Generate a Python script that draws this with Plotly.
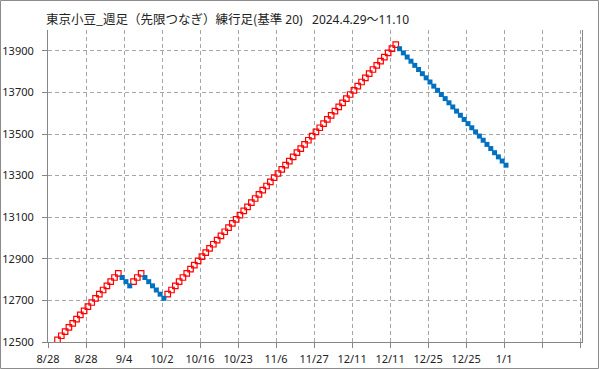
import plotly.graph_objects as go

# ---- data ----
tick_labels = ["8/28", "8/28", "9/4", "10/2", "10/16", "10/23", "11/6",
               "11/27", "12/11", "12/11", "12/25", "12/25", "1/1", "", ""]

up1 = [12510, 12530, 12550, 12570, 12590, 12610, 12630, 12650, 12670,
       12690, 12710, 12730, 12750, 12770, 12790, 12810, 12830]
down1 = [12810, 12790, 12770]
up2 = [12790, 12810, 12830]
down2 = [12810, 12790, 12770, 12750, 12730, 12710]
up3 = [12730, 12750, 12770, 12790, 12810, 12830, 12850, 12870, 12890, 12910,
       12930, 12950, 12970, 12990, 13010, 13030, 13050, 13070, 13090, 13110,
       13130, 13150, 13170, 13190, 13210, 13230, 13250, 13270, 13290, 13310,
       13330, 13350, 13370, 13390, 13410, 13430, 13450, 13470, 13490, 13510,
       13530, 13550, 13570, 13590, 13610, 13630, 13650, 13670, 13690, 13710,
       13730, 13750, 13770, 13790, 13810, 13830, 13850, 13870, 13890, 13910,
       13930]
down3 = [13910, 13890, 13870, 13850, 13830, 13810, 13790, 13770, 13750, 13730,
         13710, 13690, 13670, 13650, 13630, 13610, 13590, 13570, 13550, 13530,
         13510, 13490, 13470, 13450, 13430, 13410, 13390, 13370, 13350]

leading_empty = [None, None]
segments = [("up", up1), ("down", down1), ("up", up2), ("down", down2),
            ("up", up3), ("down", down3)]

prices = list(leading_empty)
dirs = [None] * len(leading_empty)
for d, seg in segments:
    prices += seg
    dirs += [d] * len(seg)

idx = list(range(len(prices)))
up_y = [p if d == "up" else None for p, d in zip(prices, dirs)]
down_y = [p if d == "down" else None for p, d in zip(prices, dirs)]

# ---- figure ----
W, H = 599, 369
ml, mr, mt, mb = 48, 17, 30, 27

fig = go.Figure()
fig.add_trace(go.Scatter(
    x=idx, y=up_y, mode="markers",
    marker=dict(symbol="square-open", size=5.5, color="#FF0000",
                line=dict(width=1.2, color="#FF0000")),
    hoverinfo="skip", showlegend=False))
fig.add_trace(go.Scatter(
    x=idx, y=down_y, mode="markers",
    marker=dict(symbol="square", size=5, color="#0070C0",
                line=dict(width=0)),
    hoverinfo="skip", showlegend=False))

grid = "#A6A6A6"
axis_c = "#868686"
font_num = "Noto Sans"

# categories sit between tick marks (Excel style): boundaries at k*10 - 0.5
fig.update_xaxes(
    range=[-0.5, 140.0], tickmode="array",
    tickvals=[i * 10 - 0.5 for i in range(len(tick_labels))],
    ticktext=tick_labels,
    showgrid=True, gridcolor=grid, griddash="4px,3px", gridwidth=1,
    showline=True, linecolor=axis_c, linewidth=1, mirror=False,
    ticks="outside", ticklen=5, tickcolor=axis_c, tickwidth=1,
    ticklabelstandoff=2,
    tickfont=dict(family=font_num, size=11, color="#222222"),
    zeroline=False, fixedrange=True, automargin=False)
fig.update_yaxes(
    range=[12500, 14000], tick0=12500, dtick=200, tickmode="linear",
    tickformat="d",
    showgrid=True, gridcolor=grid, griddash="4px,3px", gridwidth=1,
    showline=True, linecolor=axis_c, linewidth=1, mirror=True,
    ticks="outside", ticklen=5, tickcolor=axis_c, tickwidth=1,
    ticklabelstandoff=6,
    tickfont=dict(family=font_num, size=11, color="#222222"),
    zeroline=False, fixedrange=True, automargin=False)

pw = W - ml - mr
ph = H - mt - mb


def px_x(p):
    return (p - ml) / pw


def px_y(p):
    return 1 - (p - mt) / ph


fig.add_shape(type="rect", xref="paper", yref="paper",
              x0=px_x(0.5), x1=px_x(W - 0.5), y0=px_y(0.5), y1=px_y(H - 0.5),
              line=dict(color="#8C8C8C", width=1), fillcolor="rgba(0,0,0,0)",
              layer="below")

title_txt = ('<span style="font-family:\'Noto Sans CJK JP\';font-size:12.5px">'
             '東京小豆_週足（先限つなぎ）練行足(基準</span>'
             '<span style="font-family:\'Noto Sans\';font-size:12px">'
             '&nbsp;20)&nbsp;&nbsp;&nbsp;2024.4.29</span>'
             '<span style="font-family:\'Noto Sans CJK JP\';font-size:12px">'
             '～</span>'
             '<span style="font-family:\'Noto Sans\';font-size:12px">'
             '11.10</span>')
fig.add_annotation(text=title_txt, xref="paper", yref="paper",
                   x=px_x(44), y=px_y(18.5), xanchor="left", yanchor="middle",
                   showarrow=False, font=dict(color="#222222", size=13,
                                              family="Noto Sans CJK JP"))

fig.update_layout(
    width=W, height=H, autosize=False,
    margin=dict(l=ml, r=mr, t=mt, b=mb, pad=0),
    paper_bgcolor="white", plot_bgcolor="white",
    showlegend=False)

fig.write_html("out.html", config={"displayModeBar": False},
               post_script="document.body.style.margin='0';"
                           "document.body.style.padding='0';")
